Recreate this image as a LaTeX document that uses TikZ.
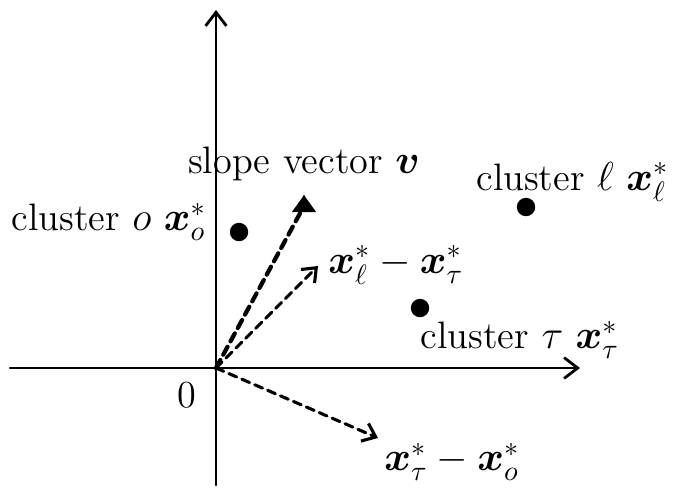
\documentclass[tikz,border=0pt]{standalone}
\usepackage{amsmath}
\usepackage{bm}
\usetikzlibrary{arrows.meta,positioning}

\begin{document}
\begin{tikzpicture}[line cap=round,line join=round,
    font=\fontsize{13.6}{16}\selectfont,
    dot/.style={circle,fill=black,inner sep=0pt,minimum size=0.23cm},
    axis/.style={line width=0.8pt,-{Straight Barb[length=1.7mm,width=2.6mm,line width=1pt]}},
    diff/.style={line width=1.1pt,dash pattern=on 3pt off 2pt,-{Straight Barb[length=1.5mm,width=2.4mm]}}]
  \useasboundingbox (-2.7,-1.5125) rectangle (5.7375,4.6);
  \coordinate (O) at (0,0);
  \coordinate (XL) at (-2.575,0);
  \coordinate (XR) at (4.55,0);
  \coordinate (YB) at (0,-1.4625);
  \coordinate (YT) at (0,4.475);
  \coordinate (V) at (1.07,1.97);
  \coordinate (LT) at (1.275,1.275);
  \coordinate (TO) at (2.025,-0.875);
  \draw[axis] (XL)--(XR);
  \draw[axis] (YB)--(YT);
  \node[dot] (co) at (0.2875,1.7) {};
  \node[dot] (cl) at (3.875,2.0125) {};
  \node[dot] (ct) at (2.55,0.75) {};
  \draw[line width=1.5pt,dash pattern=on 3.2pt off 2.2pt] (O)--(V);
  \draw[-{Triangle[length=2.1mm,width=3mm]}] (1.1,2.15)--(1.1,2.16);
  \draw[diff] (O)--(LT);
  \draw[diff] (O)--(TO);
  \node (slope) at (1.1,2.55) {slope vector \(\bm{v}\)};
  \node[anchor=east] (lo) at (0,1.825) {cluster \(o\) \(\bm{x}_o^*\)};
  \node[anchor=east] (ll) at (5.78,2.33) {cluster \(\ell\) \(\bm{x}_\ell^*\)};
  \node (lt) at (3.8,0.35) {cluster \(\tau\) \(\bm{x}_\tau^*\)};
  \node[anchor=west] (dlt) at (1.28,1.29) {\(\bm{x}_\ell^*-\bm{x}_\tau^*\)};
  \node (dto) at (2.95,-1.175) {\(\bm{x}_\tau^*-\bm{x}_o^*\)};
  \node (zero) at (-0.36,-0.34) {0};
\end{tikzpicture}
\end{document}
